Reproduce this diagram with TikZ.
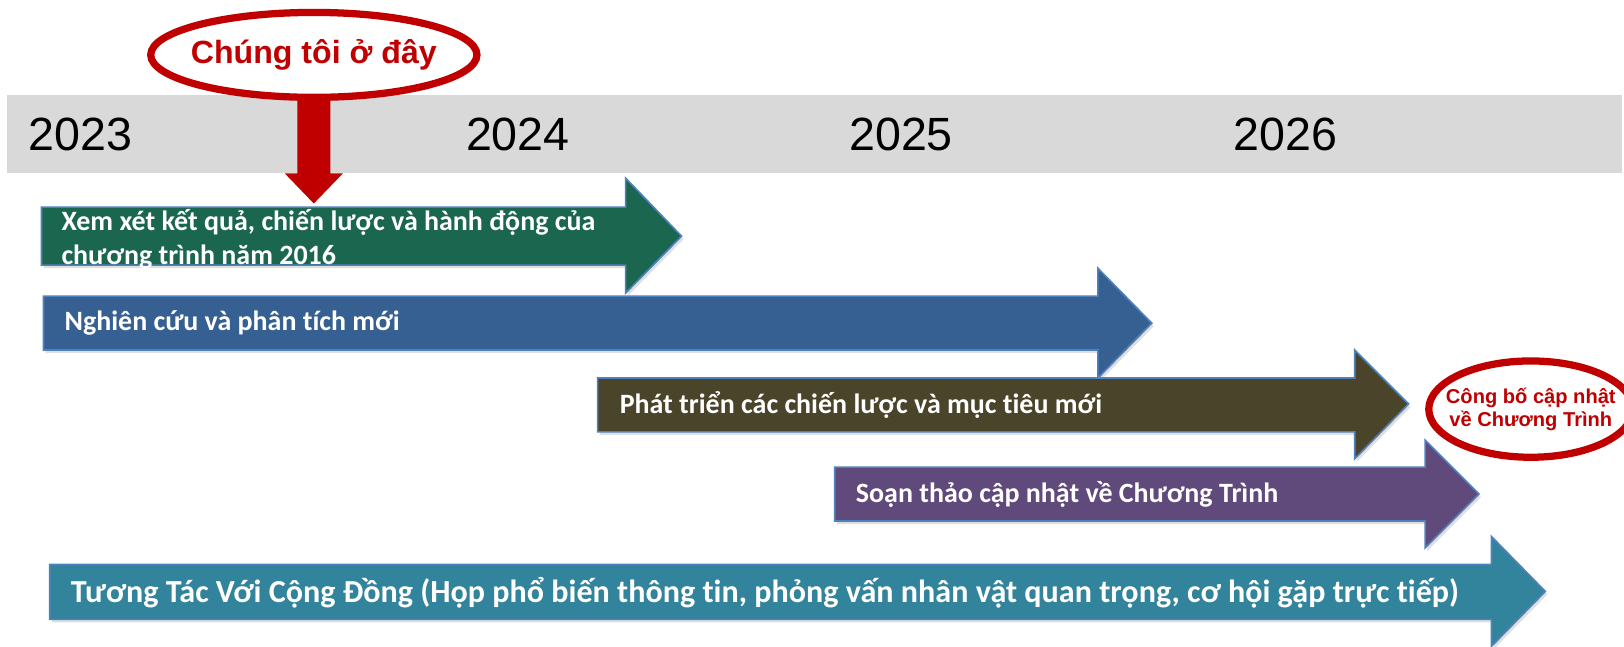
\documentclass[tikz,border=0pt]{standalone}
\usepackage{fontspec}
\usepackage{tikz}
\usetikzlibrary{shapes.geometric,shadows}
\newfontfamily\calibri[Ligatures=NoCommon]{Carlito}
\newfontfamily\arial{Liberation Sans}
\definecolor{bandgray}{RGB}{217,217,217}
\definecolor{darkred}{RGB}{192,0,0}
\definecolor{edgeblue}{RGB}{79,129,189}
\definecolor{reviewgreen}{RGB}{27,102,79}
\definecolor{researchblue}{RGB}{55,96,146}
\definecolor{strategyolive}{RGB}{74,68,42}
\definecolor{draftpurple}{RGB}{96,74,123}
\definecolor{outreachteal}{RGB}{49,132,155}
\tikzset{year/.style = {font=\arial\fontsize{22.5}{27}\selectfont, inner sep=0pt}}
\tikzset{bubble/.style = {shape=ellipse, draw=darkred, line width=3.5pt, fill=white, text=darkred, inner sep=-20pt, align=center}}
\tikzset{phasearrow/.style = {draw=edgeblue, line width=0.8pt, drop shadow={shadow xshift=1pt, shadow yshift=-1.5pt, opacity=0.25}}}
\tikzset{phasetext/.style = {anchor=west, inner sep=0pt, text=white, align=left, font=\calibri\bfseries\fontsize{13.5}{16.3}\selectfont}}

\begin{document}
\begin{tikzpicture}[x=0.5pt,y=-0.5pt]
\useasboundingbox (0,0) rectangle (1568,624);
% timeline band
\fill[bandgray] (7,92) rectangle (1566,167);
\node[year] (y2023) at (78,130) {2023};
\node[year] (y2024) at (500,130) {2024};
\node[year] (y2025) at (870,130) {2025};
\node[year] (y2026) at (1241,130) {2026};

% phases
\draw[phasearrow, fill=reviewgreen] (40,200) -- (604,200) -- (604,172) -- (658,228) -- (604,283) -- (604,256) -- (40,256) -- cycle;
\node[phasetext] (review) at (59,231) {Xem xét kết quả, chiến lược và hành động của\\chương trình năm 2016};
\draw[phasearrow, fill=researchblue] (42,286) -- (1060,286) -- (1060,259) -- (1112,312) -- (1060,365) -- (1060,338) -- (42,338) -- cycle;
\node[phasetext] (research) at (62,312) {Nghiên cứu và phân tích mới};
\draw[phasearrow, fill=strategyolive] (577,365) -- (1308,365) -- (1308,338) -- (1360,390) -- (1308,443) -- (1308,417) -- (577,417) -- cycle;
\node[phasetext] (strategy) at (598,391) {Phát triển các chiến lược và mục tiêu mới};
\draw[phasearrow, fill=draftpurple] (806,451) -- (1376,451) -- (1376,425) -- (1428,477) -- (1376,529) -- (1376,503) -- (806,503) -- cycle;
\node[phasetext] (draft) at (826,477) {Soạn thảo cập nhật về Chương Trình};
\draw[phasearrow, fill=outreachteal] (48,545) -- (1440,545) -- (1440,518) -- (1492,571) -- (1440,624) -- (1440,598) -- (48,598) -- cycle;
\node[phasetext, font=\calibri\bfseries\fontsize{15.5}{19}\selectfont] (outreach) at (68,572) {Tương Tác Với Cộng Đồng (Họp phổ biến thông tin, phỏng vấn nhân vật quan trọng, cơ hội gặp trực tiếp)};

% markers
\node[bubble, minimum width=157.5pt, minimum height=41pt, font=\arial\bfseries\fontsize{15.5}{18}\selectfont] (here) at (303,53) {Chúng tôi ở đây};
\fill[darkred] (here.south) ++(-16,0) -- ++(0,70) -- ++(-12,0) -- ++(28,29) -- ++(28,-29) -- ++(-12,0) -- ++(0,-70) -- cycle;
\node[bubble, minimum width=98.5pt, minimum height=46.5pt, font=\arial\bfseries\fontsize{9.7}{11}\selectfont] (launch) at (1478,395) {Công bố cập nhật\\về Chương Trình};
\end{tikzpicture}
\end{document}
